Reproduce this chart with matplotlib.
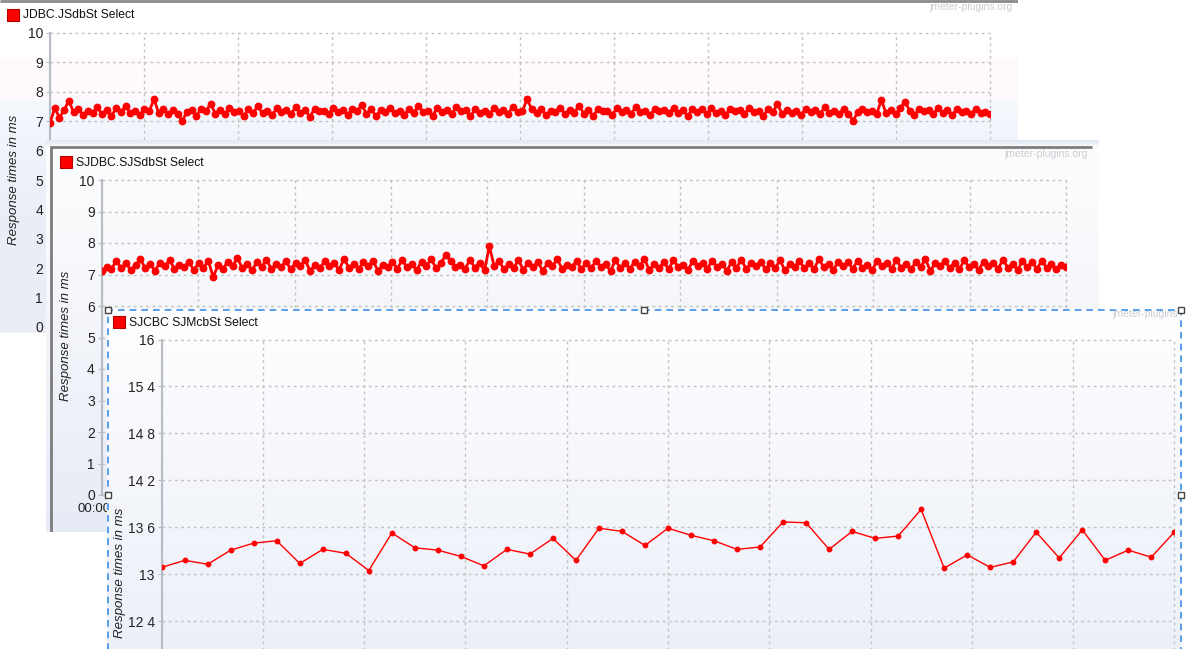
import numpy as np
import matplotlib
matplotlib.use('Agg')
import matplotlib.pyplot as plt
from matplotlib.colors import LinearSegmentedColormap
from matplotlib.patches import Rectangle

plt.rcParams['font.family'] = ['Liberation Sans', 'DejaVu Sans']

W, H = 1189, 649

# series names (legend labels)
name1 = 'JDBC.JSdbSt Select'
name2 = 'SJDBC.SJSdbSt Select'
name3 = 'SJCBC SJMcbSt Select'
ylabel = 'Response times in ms'
watermark = 'jmeter-plugins.org'

# response times (ms)
resp1 = [6.93, 7.45, 7.12, 7.38, 7.70, 7.30, 7.41, 7.22, 7.36, 7.28, 7.47, 7.25, 7.39, 7.18, 7.44, 7.31, 7.52, 7.27, 7.35, 7.21,
         7.42, 7.33, 7.75, 7.29, 7.40, 7.24, 7.37, 7.24, 7.02, 7.30, 7.38, 7.19, 7.43, 7.34, 7.60, 7.26, 7.39, 7.23, 7.45, 7.32,
         7.36, 7.17, 7.41, 7.29, 7.50, 7.27, 7.34, 7.20, 7.44, 7.31, 7.37, 7.24, 7.48, 7.28, 7.39, 7.15, 7.42, 7.33, 7.36, 7.26,
         7.45, 7.30, 7.38, 7.21, 7.43, 7.35, 7.55, 7.25, 7.40, 7.18, 7.37, 7.32, 7.46, 7.27, 7.34, 7.22, 7.41, 7.29, 7.52, 7.31,
         7.36, 7.19, 7.44, 7.30, 7.39, 7.25, 7.47, 7.33, 7.37, 7.16, 7.42, 7.28, 7.35, 7.23, 7.45, 7.31, 7.38, 7.26, 7.49, 7.30,
         7.34, 7.75, 7.40, 7.27, 7.43, 7.20, 7.36, 7.32, 7.46, 7.24, 7.39, 7.29, 7.53, 7.26, 7.37, 7.18, 7.42, 7.33, 7.35, 7.22,
         7.44, 7.30, 7.38, 7.25, 7.48, 7.31, 7.36, 7.21, 7.41, 7.34, 7.39, 7.27, 7.45, 7.29, 7.37, 7.17, 7.43, 7.32, 7.40, 7.24,
         7.46, 7.28, 7.35, 7.22, 7.42, 7.33, 7.38, 7.26, 7.44, 7.30, 7.36, 7.19, 7.41, 7.31, 7.58, 7.25, 7.39, 7.28, 7.34, 7.21,
         7.43, 7.32, 7.37, 7.24, 7.47, 7.29, 7.36, 7.26, 7.40, 7.26, 7.02, 7.30, 7.42, 7.30, 7.35, 7.24, 7.72, 7.27, 7.39, 7.23,
         7.45, 7.66, 7.36, 7.20, 7.42, 7.33, 7.38, 7.25, 7.44, 7.29, 7.37, 7.22, 7.41, 7.32, 7.35, 7.24, 7.43, 7.28, 7.30, 7.26]

resp2 = [7.10, 7.25, 7.18, 7.42, 7.22, 7.35, 7.15, 7.30, 7.48, 7.20, 7.33, 7.12, 7.38, 7.26, 7.45, 7.19, 7.31, 7.24, 7.40, 7.14,
         7.36, 7.22, 7.44, 6.92, 7.29, 7.17, 7.41, 7.27, 7.52, 7.21, 7.34, 7.13, 7.39, 7.25, 7.47, 7.18, 7.32, 7.23, 7.43, 7.16,
         7.37, 7.28, 7.46, 7.11, 7.30, 7.20, 7.42, 7.26, 7.35, 7.15, 7.50, 7.22, 7.33, 7.17, 7.40, 7.27, 7.44, 7.12, 7.31, 7.24,
         7.39, 7.19, 7.45, 7.23, 7.34, 7.14, 7.41, 7.28, 7.49, 7.20, 7.36, 7.62, 7.43, 7.25, 7.30, 7.18, 7.47, 7.22, 7.38, 7.13,
         7.90, 7.26, 7.42, 7.17, 7.33, 7.21, 7.46, 7.15, 7.37, 7.24, 7.40, 7.12, 7.35, 7.27, 7.48, 7.19, 7.31, 7.23, 7.44, 7.16,
         7.38, 7.20, 7.43, 7.25, 7.32, 7.11, 7.45, 7.22, 7.36, 7.18, 7.41, 7.26, 7.50, 7.14, 7.34, 7.21, 7.39, 7.17, 7.46, 7.23,
         7.30, 7.15, 7.42, 7.27, 7.37, 7.19, 7.44, 7.24, 7.33, 7.12, 7.40, 7.22, 7.47, 7.18, 7.35, 7.26, 7.41, 7.16, 7.38, 7.21,
         7.45, 7.13, 7.32, 7.25, 7.43, 7.20, 7.36, 7.17, 7.49, 7.23, 7.34, 7.15, 7.41, 7.27, 7.39, 7.19, 7.44, 7.22, 7.31, 7.14,
         7.42, 7.26, 7.37, 7.18, 7.46, 7.21, 7.33, 7.16, 7.40, 7.24, 7.48, 7.12, 7.35, 7.28, 7.43, 7.20, 7.38, 7.17, 7.45, 7.23,
         7.32, 7.15, 7.41, 7.26, 7.36, 7.19, 7.47, 7.22, 7.34, 7.14, 7.42, 7.25, 7.39, 7.18, 7.44, 7.21, 7.33, 7.16, 7.29, 7.24]

resp3 = [13.09, 13.18, 13.13, 13.31, 13.40, 13.43, 13.14, 13.32, 13.27, 13.05, 13.53, 13.34, 13.31, 13.23, 13.11,
         13.32, 13.26, 13.46, 13.18, 13.59, 13.55, 13.37, 13.59, 13.50, 13.43, 13.32, 13.35, 13.67, 13.66, 13.32,
         13.55, 13.46, 13.49, 13.83, 13.08, 13.25, 13.09, 13.16, 13.54, 13.21, 13.57, 13.18, 13.31, 13.22, 13.54]

yticks12 = [0, 1, 2, 3, 4, 5, 6, 7, 8, 9, 10]
yticks3 = [12.4, 13.0, 13.6, 14.2, 14.8, 15.4, 16.0]
ylabels3 = ['12 4', '13', '13 6', '14 2', '14 8', '15 4', '16']
first_time = '00:00'


def rect(x0, y0, x1, y1):
    return [x0 / W, 1 - y1 / H, (x1 - x0) / W, (y1 - y0) / H]


def backdrop(x0, y0, x1, y1, stops):
    bg = fig.add_axes(rect(x0, y0, x1, y1))
    cmap = LinearSegmentedColormap.from_list('bg', stops)
    bg.imshow(np.linspace(0, 1, 400)[:, None], extent=(x0, x1, y1, y0),
              aspect='auto', cmap=cmap, interpolation='nearest')
    bg.set_xlim(x0, x1)
    bg.set_ylim(y1, y0)
    bg.axis('off')
    return bg


def legend_box(bg, x, y, name):
    bg.add_patch(Rectangle((x, y), 12, 12, facecolor='#ff0000', edgecolor='#b00000', lw=0.8))
    bg.text(x + 16, y + 6.5, name, fontsize=8.7, color='#111111', va='center', ha='left')


def plot_axes(box, data, ylim, yticks, ytlabels, lw, ms):
    ax = fig.add_axes(rect(*box))
    ax.patch.set_alpha(0)
    x = np.arange(len(data))
    ax.plot(x, data, color='#ff0000', lw=lw, marker='o', ms=ms, mec='#ff0000', mfc='#ff0000', zorder=3)
    ax.set_xlim(0, len(data) - 1)
    ax.set_ylim(*ylim)
    ax.set_xticks(np.linspace(0, len(data) - 1, 11))
    ax.set_xticklabels([])
    ax.set_yticks(yticks)
    ax.set_yticklabels(ytlabels)
    for s in ['top', 'right', 'bottom']:
        ax.spines[s].set_visible(False)
    ax.spines['left'].set_color('#b8bcc4')
    ax.spines['left'].set_linewidth(1.5)
    ax.grid(True, color='#c2c2c2', linestyle=(0, (2, 2.5)), linewidth=1)
    ax.tick_params(axis='y', colors='#b8bcc4', labelcolor='#222222', length=3, pad=2, labelsize=10)
    ax.tick_params(axis='x', length=0)
    for gl in ax.get_xgridlines() + ax.get_ygridlines():
        gl.set_clip_on(False)
    return ax


fig = plt.figure(figsize=(W / 100, H / 100), dpi=100)

# ---- panel 1 (back)
bg1 = backdrop(0, 0, 1018, 333, [(0, '#ffffff'), (0.17, '#ffffff'), (0.175, '#fdf9fd'), (0.295, '#fdf9fd'),
                                 (0.30, '#f5f8fd'), (0.45, '#f0f3fa'), (0.7, '#e9edf6'), (1, '#eceef6')])
bg1.plot([0, 1018], [1, 1], color='#8a8a8a', lw=2, solid_capstyle='butt')
legend_box(bg1, 7, 9, name1)
bg1.text(1013, 7, watermark, fontsize=7.5, color='#c8ccd2', ha='right', va='center')
bg1.text(14, 180, ylabel, rotation=90, fontsize=9.5, style='italic', color='#222222', ha='center', va='center')
plot_axes((50, 33, 990, 327), resp1, (0, 10), yticks12, [str(t) for t in yticks12], 2.0, 4.6)

# ---- panel 2 (middle)
bg2 = backdrop(46, 140, 1099, 532, [(0, '#e3e9f4'), (0.015, '#fdfdfe'), (0.3, '#f8f9fc'), (1, '#e6ebf5')])
bg2.plot([50, 1092], [146.5, 146.5], color='#7d7d7d', lw=2, solid_capstyle='butt')
bg2.plot([50.5, 50.5], [146, 532], color='#7d7d7d', lw=2, solid_capstyle='butt')
legend_box(bg2, 60, 156, name2)
bg2.text(1088, 154, watermark, fontsize=7.5, color='#c8ccd2', ha='right', va='center')
bg2.text(66, 336, ylabel, rotation=90, fontsize=9.5, style='italic', color='#222222', ha='center', va='center')
bg2.text(78, 509, first_time, fontsize=9.5, color='#222222', ha='left', va='center')
plot_axes((101.7, 180, 1066, 495), resp2, (0, 10), yticks12, [str(t) for t in yticks12], 2.0, 4.6)

# ---- panel 3 (front, selected)
bg3 = backdrop(107, 309, 1181, 690, [(0, '#ffffff'), (0.25, '#f9fafd'), (1, '#e9eef7')])
bg3.plot([107.5, 107.5, 1180.5, 1180.5], [690, 309.5, 309.5, 690], color='#3d8fe8', lw=1.2,
         linestyle=(0, (4, 3)), clip_on=False)
for hx, hy in [(107.5, 309.5), (644, 309.5), (1180.5, 309.5), (107.5, 495), (1180.5, 495)]:
    bg3.add_patch(Rectangle((hx - 3, hy - 3), 6, 6, facecolor='white', edgecolor='#444444', lw=1, clip_on=False, zorder=5))
legend_box(bg3, 113, 316, name3)
bg3.text(1178, 314, 'jmeter-plugins', fontsize=7.5, color='#c8ccd2', ha='right', va='center')
bg3.text(120, 573, ylabel, rotation=90, fontsize=9.5, style='italic', color='#222222', ha='center', va='center')
plot_axes((161.7, 339.5, 1174.3, 668.4), resp3, (11.8, 16), yticks3, ylabels3, 1.0, 3.2)

fig.savefig('out.png', dpi=100)
